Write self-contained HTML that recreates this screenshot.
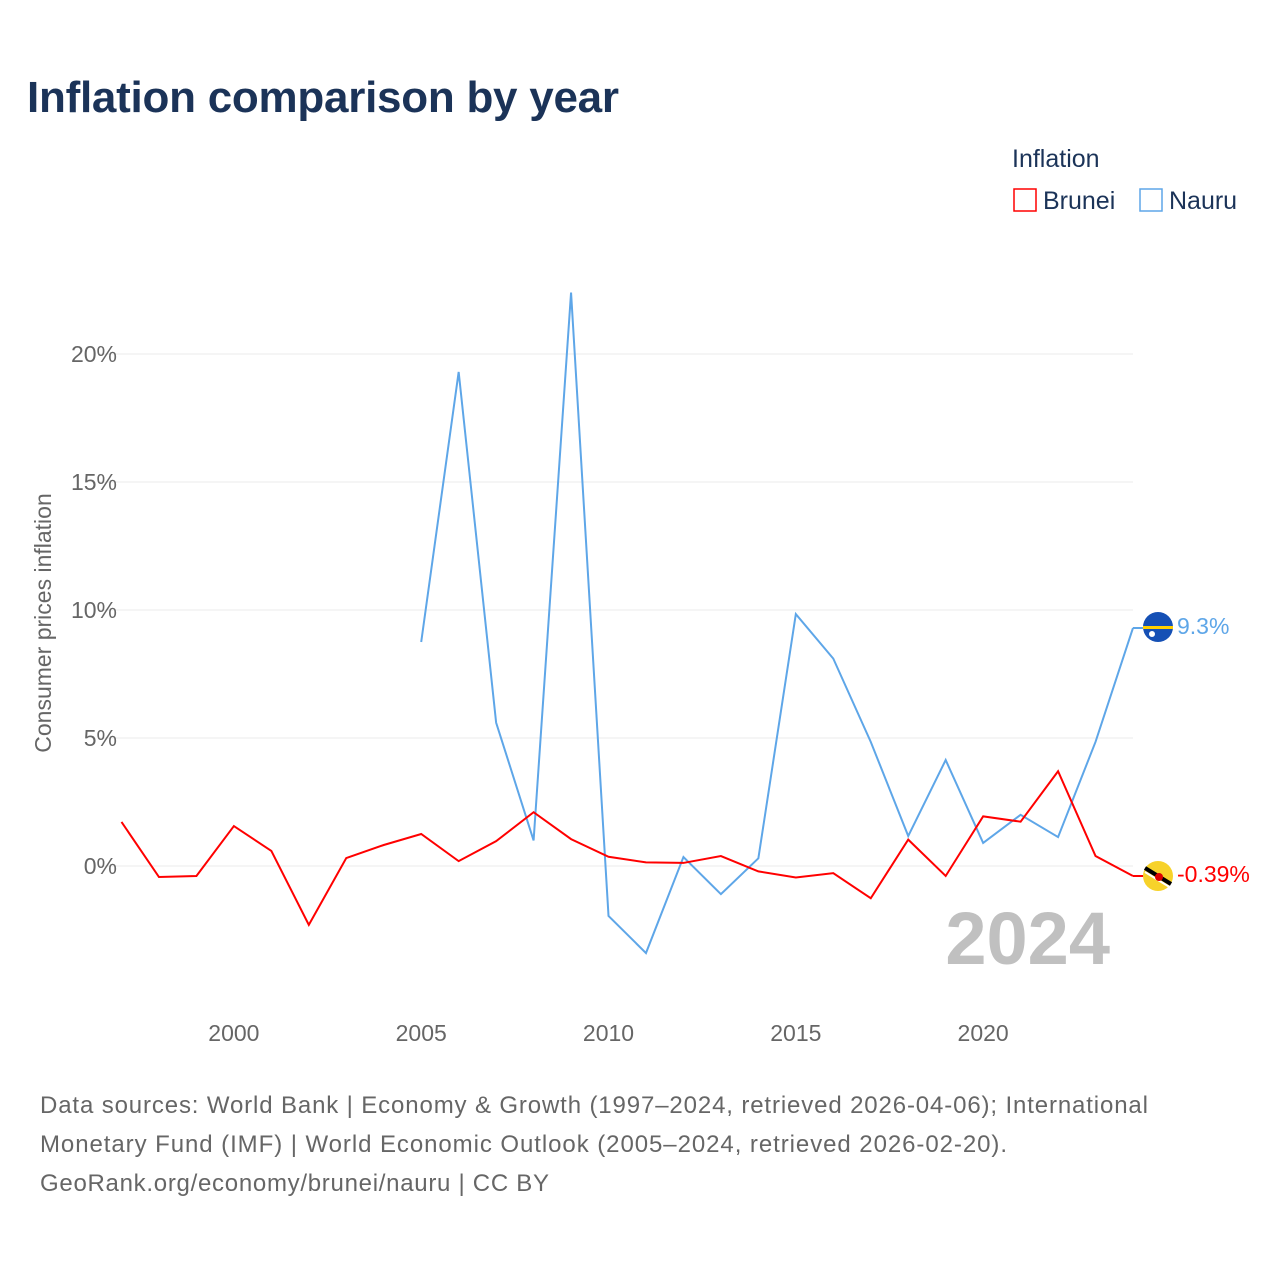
<!DOCTYPE html>
<html><head><meta charset="utf-8"><style>
body{margin:0;background:#fff;font-family:"Liberation Sans",sans-serif;}
svg text{font-family:"Liberation Sans",sans-serif;}
</style></head><body>
<svg id="chart" width="1280" height="1280" viewBox="0 0 1280 1280">
<text x="27" y="112" font-size="44" font-weight="bold" fill="#1b3358" textLength="592">Inflation comparison by year</text>
<text x="1012" y="167" font-size="25" fill="#1b3358">Inflation</text>
<g><rect x="1014" y="189" width="22" height="22" fill="none" stroke="#ff0000" stroke-width="1.5"/><text x="1043" y="209" font-size="25" fill="#1b3358">Brunei</text></g>
<g><rect x="1140" y="189" width="22" height="22" fill="none" stroke="#5ea6e8" stroke-width="1.5"/><text x="1169" y="209" font-size="25" fill="#1b3358">Nauru</text></g>
<g id="grid"></g>
<text transform="translate(51,623) rotate(-90)" text-anchor="middle" font-size="23" fill="#666">Consumer prices inflation</text>
<text x="1110" y="964" text-anchor="end" font-size="74" font-weight="bold" fill="#c0c0c0">2024</text>
<g id="series"></g>
<line x1="1133" y1="628" x2="1150" y2="628" stroke="#5ea6e8" stroke-width="2"/>
<line x1="1133" y1="876" x2="1150" y2="876" stroke="#ff0000" stroke-width="2"/>
<g><circle cx="1158" cy="627" r="15" fill="#1550b5"/><rect x="1143" y="626" width="30" height="3" fill="#ffd000"/><circle cx="1152" cy="634" r="3" fill="#fff"/></g>
<g><circle cx="1158" cy="876" r="15" fill="#f7d22a"/><path d="M1145 868 L1171 884" stroke="#000" stroke-width="4"/><path d="M1145 872 L1171 888" stroke="#fff" stroke-width="2"/><circle cx="1159" cy="877" r="4" fill="#d00"/></g>
<text x="1177" y="634" font-size="23" fill="#5ea6e8">9.3%</text>
<text x="1177" y="882" font-size="23" fill="#ff0000">-0.39%</text>
<g font-size="24" fill="#666">
<text x="40" y="1113" textLength="1108">Data sources: World Bank | Economy &amp; Growth (1997–2024, retrieved 2026-04-06); International</text>
<text x="40" y="1152" textLength="967">Monetary Fund (IMF) | World Economic Outlook (2005–2024, retrieved 2026-02-20).</text>
<text x="40" y="1191" textLength="509">GeoRank.org/economy/brunei/nauru | CC BY</text>
</g>
</svg>
<script>
const years = [1997,1998,1999,2000,2001,2002,2003,2004,2005,2006,2007,2008,2009,2010,2011,2012,2013,2014,2015,2016,2017,2018,2019,2020,2021,2022,2023,2024];
const bruneiValues = [1.72,-0.43,-0.39,1.56,0.59,-2.3,0.31,0.82,1.25,0.19,0.97,2.1,1.05,0.36,0.14,0.12,0.39,-0.21,-0.45,-0.28,-1.26,1.03,-0.39,1.94,1.73,3.7,0.39,-0.39];
const nauruYears = [2005,2006,2007,2008,2009,2010,2011,2012,2013,2014,2015,2016,2017,2018,2019,2020,2021,2022,2023,2024];
const nauruValues = [8.75,19.3,5.6,1.0,22.4,-1.95,-3.4,0.35,-1.1,0.3,9.84,8.1,4.85,1.17,4.14,0.9,2.0,1.13,4.85,9.3];
const yTicks = [0,5,10,15,20];
const yTickLabels = ["0%","5%","10%","15%","20%"];
const xTicks = [2000,2005,2010,2015,2020];
const xTickLabels = ["2000","2005","2010","2015","2020"];

const x = yr => 121.5 + (yr - 1997) * (1133 - 121.5) / 27;
const y = v => 866 - v * 25.6;
const NS = "http://www.w3.org/2000/svg";
const grid = document.getElementById('grid');
const series = document.getElementById('series');

yTicks.forEach((t, i) => {
  const l = document.createElementNS(NS, 'line');
  l.setAttribute('x1', 100); l.setAttribute('x2', 1133);
  l.setAttribute('y1', y(t)); l.setAttribute('y2', y(t));
  l.setAttribute('stroke', '#ebebeb'); l.setAttribute('stroke-width', 1);
  
  
  grid.appendChild(l);
  const tx = document.createElementNS(NS, 'text');
  tx.setAttribute('x', 117); tx.setAttribute('y', y(t) + 8);
  tx.setAttribute('text-anchor', 'end'); tx.setAttribute('font-size', 23); tx.setAttribute('fill', '#666');
  tx.textContent = yTickLabels[i];
  
  
  grid.appendChild(tx);
});
xTicks.forEach((t, i) => {
  const tx = document.createElementNS(NS, 'text');
  tx.setAttribute('x', x(t)); tx.setAttribute('y', 1041);
  tx.setAttribute('text-anchor', 'middle'); tx.setAttribute('font-size', 23); tx.setAttribute('fill', '#666');
  tx.textContent = xTickLabels[i];
  
  
  grid.appendChild(tx);
});
function line(xs, vs, color, name) {
  const p = document.createElementNS(NS, 'polyline');
  p.setAttribute('points', xs.map((yr, i) => x(yr) + ',' + y(vs[i])).join(' '));
  p.setAttribute('fill', 'none'); p.setAttribute('stroke', color); p.setAttribute('stroke-width', 2);
  
  
  series.appendChild(p);
}
line(nauruYears, nauruValues, '#5ea6e8', 'nauru-line');
line(years, bruneiValues, '#ff0000', 'brunei-line');
</script>
</body></html>
